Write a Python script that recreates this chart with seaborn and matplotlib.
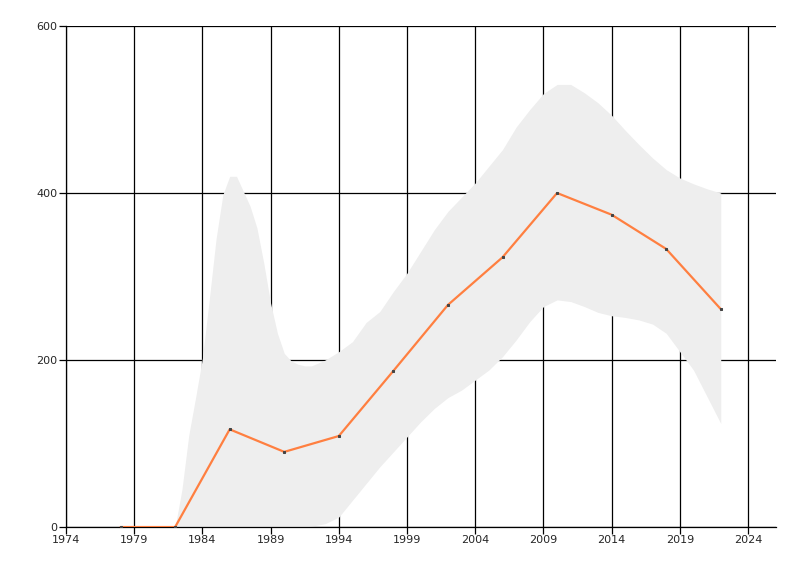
import matplotlib
matplotlib.use('Agg')
import matplotlib.pyplot as plt
import seaborn as sns
import pandas as pd

# 실측값 (4년 간격)
years = [1978, 1982, 1986, 1990, 1994, 1998, 2002, 2006, 2010, 2014, 2018, 2022]
values = [0, 0, 117, 90, 109, 187, 266, 323, 400, 374, 333, 261]

# 음영 범위 (그림에서 읽은 값: 1982~1992는 반년 단위, 이후 1년 단위)
band_years = [1982, 1982.5, 1983, 1983.5, 1984, 1984.5, 1985, 1985.5,
              1986, 1986.5, 1987, 1987.5, 1988, 1988.5, 1989, 1989.5,
              1990, 1990.5, 1991, 1991.5, 1992,
              1993, 1994, 1995, 1996, 1997, 1998, 1999, 2000, 2001, 2002,
              2003, 2004, 2005, 2006, 2007, 2008, 2009, 2010, 2011, 2012,
              2013, 2014, 2015, 2016, 2017, 2018, 2019, 2020, 2021, 2022]
band_upper = [0, 45, 110, 155, 202, 272, 345, 398,
              420, 420, 402, 384, 358, 316, 268, 232,
              208, 199, 195, 193, 193,
              200, 210, 222, 245, 258, 282, 304, 330, 356, 378,
              395, 412, 432, 452, 479, 500, 519, 530, 530, 520,
              508, 493, 475, 458, 442, 428, 418, 411, 405, 400]
band_lower = [0, 0, 0, 0, 0, 0, 0, 0,
              0, 0, 0, 0, 0, 0, 0, 0,
              0, 0, 0, 0, 1,
              4, 12, 32, 52, 72, 90, 108, 126, 142, 155,
              164, 176, 188, 204, 224, 246, 264, 272, 270, 264,
              257, 253, 251, 248, 243, 232, 210, 188, 156, 124]

xticks = list(range(1974, 2025, 5))
yticks = [0, 200, 400, 600]

df = pd.DataFrame({'year': years, 'value': values})

sns.set_style('white')
plt.rcParams['font.family'] = ['DejaVu Sans']

fig = plt.figure(figsize=(8, 5.76), dpi=100)
ax = fig.add_axes([0.0825, 0.085, 0.8875, 0.8699])

ax.fill_between(band_years, band_lower, band_upper, color='#EEEEEE',
                linewidth=0, zorder=2)
sns.lineplot(data=df, x='year', y='value', ax=ax, color='#FF7F40',
             linewidth=1.6, marker='s', markersize=1.5,
             markerfacecolor='#444444', markeredgecolor='#444444', zorder=3)

ax.set_xlim(1974, 2026.05)
ax.set_ylim(0, 600)
ax.set_xticks(xticks)
ax.set_yticks(yticks)
ax.grid(True, color='black', linewidth=0.9)
ax.set_axisbelow(True)
ax.set_xlabel('')
ax.set_ylabel('')
for s in ['top', 'right']:
    ax.spines[s].set_visible(False)
for s in ['left', 'bottom']:
    ax.spines[s].set_color('black')
    ax.spines[s].set_linewidth(0.9)
ax.tick_params(axis='both', direction='out', length=5, width=0.9,
               color='black', labelsize=8, pad=1, left=True, bottom=True)

plt.savefig('out.png', dpi=100)
plt.close()
